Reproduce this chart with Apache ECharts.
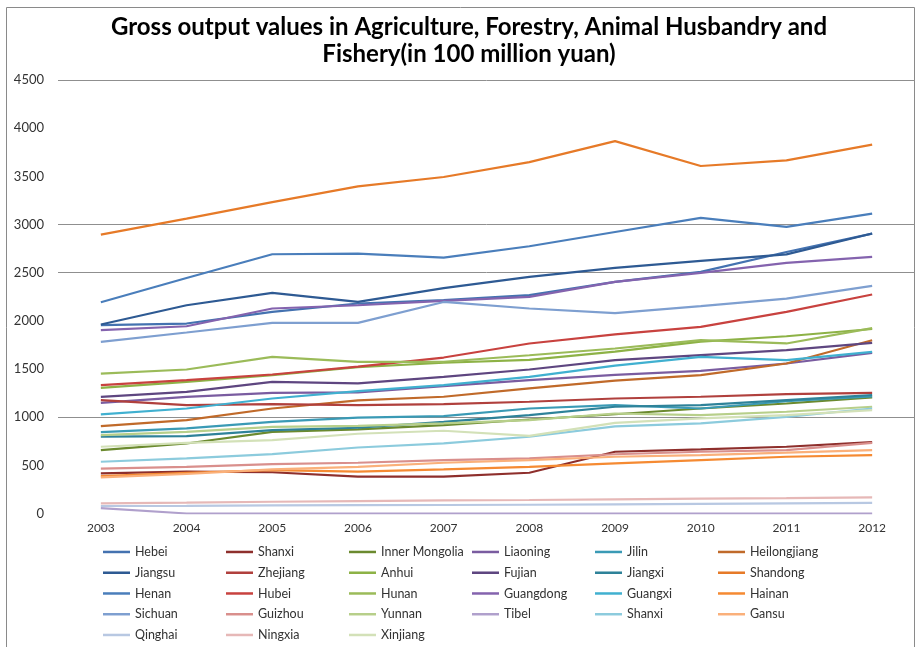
<!DOCTYPE html>
<html>
<head>
<meta charset="utf-8">
<script src="https://cdn.jsdelivr.net/npm/echarts@6/dist/echarts.min.js"></script>
<style>
  html, body { margin: 0; padding: 0; background: #ffffff; }
  #chart { width: 918px; height: 647px; }
</style>
</head>
<body>
<div id="chart"></div>
<script>
// Years on the category axis
const years = ['2003', '2004', '2005', '2006', '2007', '2008', '2009', '2010', '2011', '2012'];

// Value-axis ticks (100 million yuan)
const yTicks = [0, 500, 1000, 1500, 2000, 2500, 3000, 3500, 4000, 4500];

// Province series, in legend order
const hebei        = [1955, 1972, 2093, 2180, 2214, 2266, 2404, 2508, 2715, 2906];
const shanxi       = [417, 434, 428, 382, 382, 423, 641, 665, 693, 740];
const innerMongolia= [658, 727, 848, 873, 918, 976, 1030, 1090, 1142, 1205];
const liaoning     = [1149, 1211, 1253, 1258, 1322, 1384, 1440, 1481, 1557, 1668];
const jilin        = [845, 883, 952, 995, 1011, 1090, 1125, 1090, 1165, 1215];
const heilongjiang = [907, 969, 1090, 1175, 1212, 1298, 1380, 1436, 1557, 1799];
const jiangsu      = [1962, 2162, 2290, 2197, 2340, 2456, 2549, 2622, 2690, 2906];
const zhejiang     = [1177, 1125, 1135, 1125, 1135, 1160, 1194, 1212, 1239, 1253];
const anhui        = [1305, 1367, 1436, 1520, 1565, 1595, 1680, 1785, 1840, 1915];
const fujian       = [1211, 1263, 1367, 1350, 1419, 1495, 1592, 1644, 1695, 1771];
const jiangxi      = [797, 804, 866, 890, 952, 1021, 1108, 1125, 1177, 1230];
const shandong     = [2895, 3061, 3233, 3396, 3493, 3648, 3866, 3607, 3666, 3829];
const henan        = [2193, 2445, 2691, 2698, 2657, 2774, 2922, 3068, 2975, 3113];
const hubei        = [1332, 1384, 1443, 1525, 1619, 1765, 1860, 1937, 2093, 2273];
const hunan        = [1453, 1495, 1626, 1574, 1575, 1643, 1713, 1800, 1765, 1925];
const guangdong    = [1903, 1944, 2128, 2162, 2207, 2249, 2404, 2497, 2601, 2663];
const guangxi      = [1028, 1090, 1194, 1270, 1332, 1419, 1535, 1626, 1592, 1678];
const hainan       = [389, 423, 451, 434, 458, 485, 520, 555, 589, 606];
const sichuan      = [1782, 1879, 1979, 1979, 2196, 2128, 2080, 2152, 2231, 2362];
const guizhou      = [465, 485, 513, 527, 555, 572, 615, 641, 658, 734];
const yunnan       = [814, 848, 900, 910, 935, 969, 1038, 1021, 1056, 1108];
const tibet        = [55, 0, 0, 0, 0, 0, 0, 0, 0, 0];
const shaanxi      = [537, 572, 617, 685, 727, 797, 905, 935, 1004, 1090];
const gansu        = [375, 410, 458, 485, 527, 555, 589, 606, 631, 658];
const qinghai      = [78, 80, 84, 86, 88, 91, 95, 100, 105, 110];
const ningxia      = [105, 112, 122, 129, 136, 140, 147, 154, 160, 167];
const xinjiang     = [693, 734, 762, 828, 859, 805, 940, 987, 1021, 1073];

// Series keys and the labels shown in the legend
const seriesKeys = ['Hebei', 'Shanxi', 'Inner Mongolia', 'Liaoning', 'Jilin', 'Heilongjiang',
  'Jiangsu', 'Zhejiang', 'Anhui', 'Fujian', 'Jiangxi', 'Shandong',
  'Henan', 'Hubei', 'Hunan', 'Guangdong', 'Guangxi', 'Hainan',
  'Sichuan', 'Guizhou', 'Yunnan', 'Tibet', 'Shaanxi', 'Gansu',
  'Qinghai', 'Ningxia', 'Xinjiang'];
const legendLabels = ['Hebei', 'Shanxi', 'Inner Mongolia', 'Liaoning', 'Jilin', 'Heilongjiang',
  'Jiangsu', 'Zhejiang', 'Anhui', 'Fujian', 'Jiangxi', 'Shandong',
  'Henan', 'Hubei', 'Hunan', 'Guangdong', 'Guangxi', 'Hainan',
  'Sichuan', 'Guizhou', 'Yunnan', 'Tibel', 'Shanxi', 'Gansu',
  'Qinghai', 'Ningxia', 'Xinjiang'];
const seriesValues = [hebei, shanxi, innerMongolia, liaoning, jilin, heilongjiang,
  jiangsu, zhejiang, anhui, fujian, jiangxi, shandong,
  henan, hubei, hunan, guangdong, guangxi, hainan,
  sichuan, guizhou, yunnan, tibet, shaanxi, gansu,
  qinghai, ningxia, xinjiang];
const seriesColors = ['#4472B0', '#8E2F2C', '#6B8A2F', '#7A5CA0', '#3A9AB5', '#C06A2A',
  '#2E5A93', '#B0403D', '#8DB246', '#5E4680', '#2E8299', '#E67A28',
  '#4A7EBB', '#C8423F', '#9BBB59', '#8463AE', '#40B0D0', '#F58A32',
  '#7E9FD0', '#D98F8C', '#B7CF8A', '#B0A0CC', '#8CCBDD', '#FAB07A',
  '#B8C8E2', '#E6B8B7', '#D3E1B8'];

const labelOf = {};
seriesKeys.forEach((k, i) => { labelOf[k] = legendLabels[i]; });

// Only some horizontal gridlines are visible
const gridColors = yTicks.map(v => ([1000, 2500, 3000, 4500].indexOf(v) >= 0 ? '#8f8f8f' : 'rgba(0,0,0,0)'));

const chart = echarts.init(document.getElementById('chart'), null, { renderer: 'canvas' });

chart.setOption({
  animation: false,
  backgroundColor: '#ffffff',
  color: seriesColors,
  title: {
    text: 'Gross output values in Agriculture, Forestry, Animal Husbandry and\nFishery(in 100 million yuan)',
    left: 469,
    textAlign: 'center',
    top: 14,
    padding: 0,
    textStyle: {
      fontFamily: 'Lato',
      fontWeight: 'bold',
      fontSize: 24,
      lineHeight: 27,
      color: '#000000'
    }
  },
  graphic: [{
    type: 'rect',
    shape: { x: 6.5, y: 7.5, width: 908, height: 700 },
    style: { fill: 'none', stroke: '#8a8a8a', lineWidth: 1 },
    silent: true
  }],
  grid: { left: 58, right: 3, top: 80, bottom: 133.5 },
  xAxis: {
    type: 'category',
    data: years,
    boundaryGap: true,
    axisLine: { show: false },
    axisTick: { show: false },
    axisLabel: { color: '#333333', fontFamily: 'Lato', fontSize: 12, margin: 9 }
  },
  yAxis: {
    type: 'value',
    min: yTicks[0],
    max: yTicks[yTicks.length - 1],
    interval: 500,
    axisLine: { show: false },
    axisTick: { show: false },
    axisLabel: { color: '#333333', fontFamily: 'Lato', fontSize: 13, margin: 14, formatter: v => String(v) },
    splitLine: { show: true, lineStyle: { color: gridColors, width: 1 } }
  },
  legend: {
    data: seriesKeys,
    left: 103,
    top: 541.6,
    width: 745,
    padding: 0,
    itemGap: 0,
    itemWidth: 27,
    itemHeight: 2.5,
    icon: 'rect',
    formatter: name => labelOf[name],
    textStyle: {
      fontFamily: 'Lato',
      fontSize: 12.5,
      color: '#333333',
      width: 91,
      lineHeight: 20.75,
      overflow: 'none'
    }
  },
  series: seriesKeys.map((k, i) => ({
    name: k,
    type: 'line',
    data: seriesValues[i],
    showSymbol: false,
    symbol: 'none',
    lineStyle: { width: 2.2, color: seriesColors[i] },
    itemStyle: { color: seriesColors[i] }
  }))
});
</script>
</body>
</html>
